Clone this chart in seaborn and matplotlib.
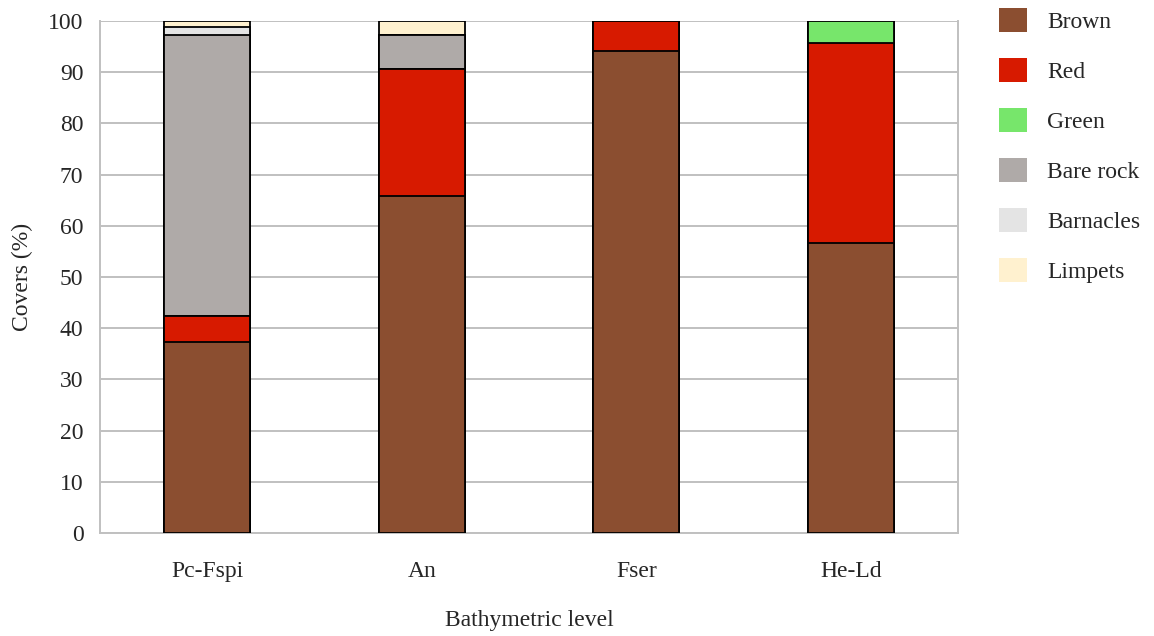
import numpy as np
import pandas as pd
import matplotlib.pyplot as plt
import seaborn as sns
from matplotlib.patches import Patch

levels = ['Pc-Fspi', 'An', 'Fser', 'He-Ld']
groups = ['Brown', 'Red', 'Green', 'Bare rock', 'Barnacles', 'Limpets']
brown = [37.3, 65.8, 94.1, 56.6]
red = [5.1, 24.8, 5.9, 39.1]
green = [0.0, 0.0, 0.0, 4.3]
bare_rock = [54.9, 6.7, 0.0, 0.0]
barnacles = [1.5, 0.0, 0.0, 0.0]
limpets = [1.2, 2.7, 0.0, 0.0]
colors = ['#8b4e30', '#d71a00', '#77e66b', '#afaaa8', '#e4e4e4', '#fff1cf']

covers = pd.DataFrame({'Brown': brown, 'Red': red, 'Green': green,
                       'Bare rock': bare_rock, 'Barnacles': barnacles,
                       'Limpets': limpets}, index=levels)
cum = covers.cumsum(axis=1)

sns.set_style('white')
plt.rcParams['font.family'] = ['Liberation Serif', 'DejaVu Serif']

fig = plt.figure(figsize=(11.54, 6.36), dpi=100)
ax = fig.add_axes([0.0867, 0.162, 0.7435, 0.805])

# draw cumulative bars from the top group down so lower segments sit on top
for g, c in reversed(list(zip(groups, colors))):
    sns.barplot(x=levels, y=cum[g].values, color=c, width=0.4,
                edgecolor='black', linewidth=1.3, saturation=1, ax=ax, zorder=3)

ax.set_ylim(0, 100)
ax.set_xlim(-0.5, 3.5)
ax.set_yticks(range(0, 101, 10))
ax.yaxis.grid(True, color='#c0c0c0', linewidth=1.4, zorder=0)
ax.set_axisbelow(True)
for s in ['left', 'right', 'bottom']:
    ax.spines[s].set_color('#c0c0c0')
    ax.spines[s].set_linewidth(1.4)
ax.spines['top'].set_visible(False)
ax.tick_params(axis='both', length=0, labelsize=17, pad=12)
ax.tick_params(axis='x', pad=20)
ax.set_ylabel('Covers (%)', fontsize=17)
ax.set_xlabel('Bathymetric level', fontsize=17)
ax.yaxis.set_label_coords(-0.09, 0.5)
ax.xaxis.set_label_coords(0.5, -0.17)
ax.xaxis.label.set_va('center')
ax.yaxis.label.set_va('center')

handles = [Patch(facecolor=c, edgecolor='none', label=g) for g, c in zip(groups, colors)]
fig.legend(handles=handles, loc='upper left', bbox_to_anchor=(0.851, 1.014),
           frameon=False, fontsize=17, handlelength=1.2, handleheight=1.2,
           labelspacing=1.06, handletextpad=0.85, borderaxespad=0.3)

fig.savefig('out.png', dpi=100)
